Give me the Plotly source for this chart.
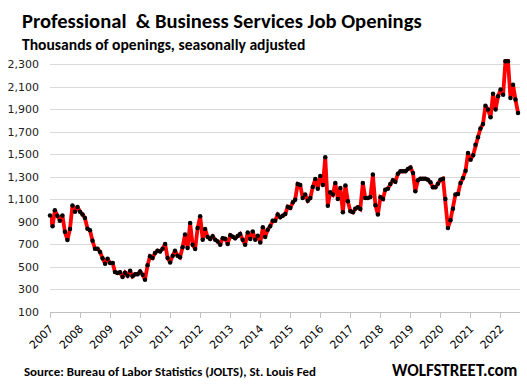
import plotly.graph_objects as go
import pandas as pd

# Monthly job openings (thousands), Jan 2007 .. Aug 2022
openings = [
    959, 862, 1004, 957, 912, 959, 814, 740, 838, 1048, 992, 1034,   # 2007
    992, 968, 936, 841, 826, 734, 663, 663, 634, 577, 530, 574,      # 2008
    536, 536, 456, 447, 453, 411, 450, 423, 467, 417, 435, 435,      # 2009
    460, 432, 387, 515, 595, 580, 625, 645, 639, 663, 705, 580,      # 2010
    541, 601, 645, 601, 586, 675, 790, 669, 892, 699, 661, 847,      # 2011
    951, 743, 838, 767, 749, 773, 743, 728, 699, 755, 752, 705,      # 2012
    782, 770, 755, 775, 794, 743, 699, 808, 749, 817, 743, 779,      # 2013
    717, 853, 767, 832, 862, 912, 912, 966, 942, 957, 972, 1037,     # 2014
    1025, 1075, 1099, 1239, 1230, 1114, 1144, 1090, 1114, 1212, 1283, 1197,  # 2015
    1310, 1230, 1476, 1046, 1164, 1144, 1248, 1105, 1203, 986, 1226, 1084,   # 2016
    995, 986, 1019, 1031, 1016, 1248, 1114, 1114, 1123, 1322, 1049, 966,     # 2017
    1120, 1105, 1188, 1197, 1239, 1271, 1259, 1330, 1351, 1351, 1351, 1372,  # 2018
    1386, 1337, 1173, 1271, 1285, 1286, 1286, 1277, 1253, 1209, 1209, 1241,  # 2019
    1277, 1286, 1105, 847, 915, 1019, 1144, 1150, 1248, 1292, 1357, 1515,    # 2020
    1455, 1493, 1588, 1653, 1731, 1773, 1935, 1900, 1831, 2042, 1900, 2018,  # 2021
    2078, 2033, 2330, 2330, 2004, 2122, 1989, 1870,                          # 2022
]
months = pd.date_range("2007-01-01", periods=len(openings), freq="MS")

year_ticks = [f"{y}-01-01" for y in range(2007, 2023)]
year_labels = [str(y) for y in range(2007, 2023)]
y_ticks = list(range(100, 2301, 200))

W, H = 527, 389
L, R = 45.7, 520.0
Ytop_val, Ybot_val = 2350, 100
y_bottom_px = 312.3
px_per_unit = 0.1124
T = y_bottom_px - (Ytop_val - Ybot_val) * px_per_unit
PW = R - L
PH = y_bottom_px - T

def px(xp):
    return (xp - L) / PW

def py(yp):
    return (y_bottom_px - yp) / PH

font_title = "Carlito, Lato, 'Open Sans', sans-serif"

fig = go.Figure()
fig.add_trace(go.Scatter(
    x=months, y=openings, mode="lines+markers",
    line=dict(color="#ff0000", width=3.8),
    marker=dict(color="#000000", size=4.5),
    cliponaxis=False, showlegend=False,
))

fig.update_layout(
    width=W, height=H,
    margin=dict(l=L, r=W - R, t=T, b=H - y_bottom_px, pad=0),
    paper_bgcolor="white", plot_bgcolor="white",
    xaxis=dict(
        type="date",
        range=["2007-01-01", "2022-08-25"],
        tickvals=year_ticks, ticktext=year_labels,
        tickangle=-45,
        tickfont=dict(family="DejaVu Sans", size=11, color="#000000"),
        showgrid=False, zeroline=False,
        showline=True, linecolor="#bfbfbf", linewidth=1,
        ticks="outside", ticklen=5, tickcolor="#bfbfbf",
    ),
    yaxis=dict(
        range=[Ybot_val, Ytop_val],
        tickvals=y_ticks, tickformat=",d",
        tickfont=dict(family="DejaVu Sans", size=11, color="#222222"),
        showgrid=True, gridcolor="#d9d9d9", gridwidth=1,
        zeroline=False, showline=False, ticks="", ticklen=0,
        ticklabelstandoff=10,
    ),
    annotations=[
        dict(text="<b>Professional  & Business Services Job Openings</b>",
             xref="paper", yref="paper", x=px(15), y=py(21),
             xanchor="left", yanchor="middle", showarrow=False,
             font=dict(family=font_title, size=20.6, color="#000000")),
        dict(text="<b>Thousands of openings, seasonally adjusted</b>",
             xref="paper", yref="paper", x=px(15), y=py(44.5),
             xanchor="left", yanchor="middle", showarrow=False,
             font=dict(family=font_title, size=15.6, color="#000000")),
        dict(text="<b>Source: Bureau of Labor Statistics (JOLTS), St. Louis Fed</b>",
             xref="paper", yref="paper", x=px(17), y=py(371.7),
             xanchor="left", yanchor="middle", showarrow=False,
             font=dict(family=font_title, size=12.9, color="#000000")),
        dict(text="<b>WOLFSTREET.com</b>",
             xref="paper", yref="paper", x=px(519), y=py(370.7),
             xanchor="right", yanchor="middle", showarrow=False,
             font=dict(family=font_title, size=17, color="#000000")),
    ],
)

fig.write_html("out.html", config={"displayModeBar": False},
               post_script="document.body.style.margin='0';document.body.style.padding='0';")
